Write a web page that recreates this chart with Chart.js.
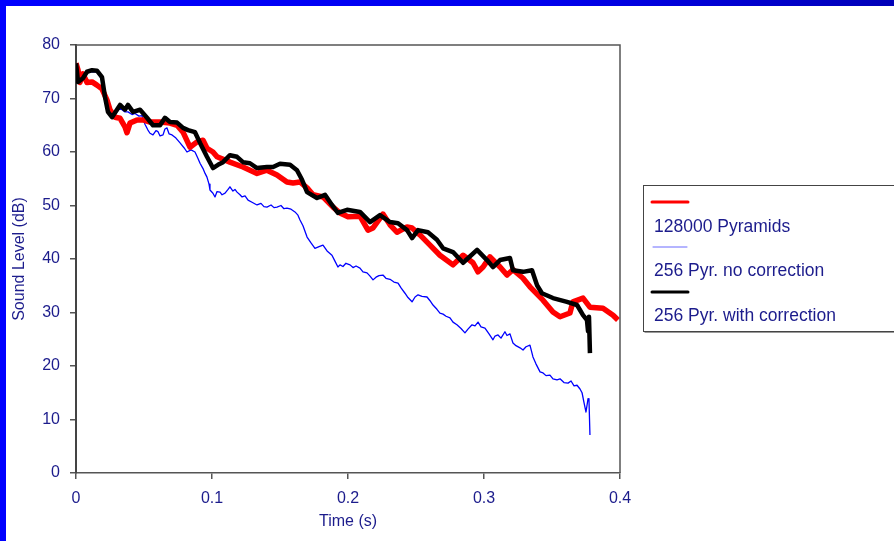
<!DOCTYPE html>
<html>
<head>
<meta charset="utf-8">
<script src="https://cdn.jsdelivr.net/npm/chart.js@4"></script>
<style>
  html, body { margin: 0; padding: 0; background: #ffffff; }
  #wrap { position: relative; width: 894px; height: 541px; overflow: hidden; background: #fff; }
  #c { position: absolute; left: 0; top: 0; }
  #topbar { position: absolute; left: 0; top: 0; width: 894px; height: 6px; background: linear-gradient(to right, #0000ff 0%, #0000ee 60%, #0000b8 100%); }
  #leftbar { position: absolute; left: 0; top: 0; width: 6px; height: 541px; background: #0000ff; }
</style>
</head>
<body>
<div id="wrap">
  <canvas id="c" width="894" height="541"></canvas>
  <div id="topbar"></div>
  <div id="leftbar"></div>
</div>
<script>
// ---- Data (time in seconds, level in dB) ----
const seriesNames = ['128000 Pyramids', '256 Pyr. no correction', '256 Pyr. with correction'];

const redTime = [0.0000,0.0015,0.0029,0.0051,0.0081,0.0118,0.0154,0.0191,0.0228,0.0250,0.0287,0.0324,0.0360,0.0375,0.0397,0.0449,0.0493,0.0544,0.0618,0.0691,0.0743,0.0787,0.0838,0.0890,0.0934,0.0963,0.1007,0.1037,0.1132,0.1228,0.1331,0.1404,0.1478,0.1551,0.1596,0.1647,0.1699,0.1743,0.1816,0.1890,0.1941,0.2000,0.2088,0.2147,0.2184,0.2257,0.2309,0.2360,0.2434,0.2471,0.2529,0.2603,0.2676,0.2772,0.2846,0.2919,0.2956,0.2993,0.3044,0.3118,0.3169,0.3213,0.3287,0.3338,0.3434,0.3507,0.3559,0.3632,0.3654,0.3728,0.3779,0.3875,0.3949,0.3985];
const redLevel = [76.6,75.3,73.0,74.6,73.0,73.1,72.5,71.8,69.7,67.9,66.5,66.3,64.7,63.6,65.4,66.0,66.0,65.6,65.6,65.4,65.0,63.7,60.9,61.9,62.2,60.7,60.0,59.1,58.1,57.2,56.0,56.6,55.7,54.4,54.2,54.4,53.3,52.0,51.6,49.7,48.6,47.9,48.0,45.4,45.8,48.4,46.4,45.0,46.0,45.8,44.5,42.6,40.7,38.9,40.7,39.3,37.6,38.5,40.4,38.5,37.0,38.0,36.4,34.8,32.3,30.1,29.2,29.9,32.0,32.7,31.0,30.8,29.5,28.6];

const blueTime = [0.0000,0.0015,0.0051,0.0081,0.0118,0.0154,0.0191,0.0213,0.0235,0.0265,0.0301,0.0324,0.0360,0.0382,0.0412,0.0434,0.0463,0.0485,0.0507,0.0529,0.0544,0.0566,0.0588,0.0603,0.0618,0.0640,0.0654,0.0669,0.0684,0.0706,0.0735,0.0765,0.0794,0.0816,0.0846,0.0875,0.0897,0.0912,0.0934,0.0949,0.0963,0.0978,0.0985,0.1007,0.1022,0.1037,0.1059,0.1074,0.1096,0.1118,0.1132,0.1154,0.1169,0.1184,0.1206,0.1221,0.1243,0.1265,0.1294,0.1331,0.1360,0.1382,0.1404,0.1434,0.1456,0.1478,0.1507,0.1529,0.1551,0.1581,0.1610,0.1632,0.1647,0.1669,0.1699,0.1728,0.1757,0.1787,0.1816,0.1846,0.1882,0.1904,0.1926,0.1941,0.1963,0.1985,0.2015,0.2037,0.2059,0.2088,0.2110,0.2140,0.2162,0.2184,0.2206,0.2228,0.2257,0.2279,0.2309,0.2338,0.2368,0.2390,0.2419,0.2441,0.2471,0.2493,0.2515,0.2544,0.2581,0.2603,0.2625,0.2654,0.2676,0.2699,0.2721,0.2750,0.2772,0.2801,0.2831,0.2860,0.2882,0.2912,0.2934,0.2956,0.2978,0.3007,0.3037,0.3066,0.3081,0.3103,0.3125,0.3154,0.3169,0.3191,0.3213,0.3235,0.3265,0.3287,0.3309,0.3338,0.3360,0.3382,0.3412,0.3434,0.3456,0.3485,0.3507,0.3537,0.3559,0.3588,0.3618,0.3640,0.3662,0.3684,0.3706,0.3721,0.3735,0.3750,0.3765,0.3772,0.3779];
const blueLevel = [76.6,73.5,74.0,75.0,75.0,75.0,73.5,70.0,67.5,66.5,67.5,68.2,67.5,67.5,67.0,67.2,66.7,66.8,65.2,64.1,63.5,63.2,64.0,63.8,63.0,63.2,64.3,64.5,63.4,63.2,62.6,61.7,60.8,60.0,60.4,60.0,58.8,57.9,56.9,56.0,55.3,54.0,52.9,52.3,51.6,52.6,52.5,52.0,52.3,53.0,53.5,52.7,53.0,52.5,52.0,51.6,51.8,51.0,50.6,50.1,50.4,49.8,49.7,50.1,49.6,49.7,50.0,49.4,49.5,49.3,48.8,48.2,47.3,46.2,44.1,43.0,42.0,42.3,42.6,41.5,40.7,39.6,38.5,38.9,38.6,39.2,38.9,38.4,38.7,38.3,37.6,37.4,36.8,36.1,36.6,36.9,37.0,36.4,36.2,35.7,35.5,34.6,33.6,32.8,32.0,32.9,33.3,33.0,32.9,32.2,31.4,30.6,29.9,29.7,29.3,29.0,28.2,27.7,27.0,26.2,26.9,27.7,27.5,28.2,27.3,27.1,26.0,24.9,25.6,25.8,25.2,26.4,25.7,26.0,24.3,23.8,23.4,23.0,23.6,23.9,21.7,20.4,18.9,18.7,18.2,18.3,17.6,17.4,17.6,16.9,16.8,17.2,16.3,16.4,15.7,15.0,13.2,11.4,13.9,13.6,7.1];

const blackTime = [0.0000,0.0015,0.0051,0.0081,0.0118,0.0154,0.0191,0.0213,0.0235,0.0265,0.0301,0.0324,0.0360,0.0382,0.0419,0.0471,0.0522,0.0566,0.0618,0.0654,0.0691,0.0743,0.0787,0.0824,0.0875,0.0912,0.0963,0.1007,0.1044,0.1081,0.1132,0.1184,0.1228,0.1279,0.1331,0.1404,0.1449,0.1500,0.1574,0.1625,0.1662,0.1699,0.1772,0.1831,0.1882,0.1926,0.1993,0.2088,0.2162,0.2235,0.2309,0.2368,0.2434,0.2471,0.2515,0.2588,0.2654,0.2699,0.2772,0.2846,0.2949,0.3022,0.3066,0.3118,0.3191,0.3213,0.3287,0.3353,0.3390,0.3426,0.3507,0.3610,0.3684,0.3728,0.3757,0.3765,0.3772,0.3779];
const blackLevel = [76.6,73.1,73.8,75.0,75.3,75.2,74.0,70.3,67.5,66.5,67.9,68.8,67.9,68.8,67.5,67.9,66.4,65.0,65.0,66.4,65.6,65.5,64.5,64.1,63.7,61.7,59.1,57.0,57.6,58.1,59.4,59.1,58.1,57.9,57.0,57.2,57.2,57.8,57.6,56.6,54.8,52.5,51.4,52.0,50.1,48.6,49.2,48.8,46.9,48.2,46.9,46.7,45.4,43.9,45.4,45.0,43.6,42.0,41.3,39.3,41.7,39.8,38.5,39.8,40.2,37.9,37.6,37.9,35.1,33.6,32.7,32.0,31.4,29.5,28.6,26.5,29.2,22.4];

const xTickLabels = ['0', '0.1', '0.2', '0.3', '0.4'];
const yTickLabels = ['0', '10', '20', '30', '40', '50', '60', '70', '80'];

const toPts = (t, v) => t.map((x, i) => ({ x: x, y: v[i] }));

const TEXT = '#1c1c8c';
const FONT = "'Liberation Sans', Arial, sans-serif";

// Custom legend + plot frame
const decor = {
  id: 'decor',
  afterDraw(chart) {
    const ctx = chart.ctx;
    const a = chart.chartArea;
    ctx.save();
    ctx.strokeStyle = '#555';
    ctx.lineWidth = 1.5;
    ctx.beginPath();
    ctx.moveTo(a.left, a.top);
    ctx.lineTo(a.right, a.top);
    ctx.lineTo(a.right, a.bottom);
    ctx.stroke();
    const bx = 643.5, by = 185.5, bw = 260, bh = 146;
    ctx.fillStyle = '#fff';
    ctx.fillRect(bx, by, bw, bh);
    ctx.strokeStyle = '#444';
    ctx.lineWidth = 1;
    ctx.strokeRect(bx, by, bw, bh);
    ctx.strokeStyle = '#999';
    ctx.beginPath();
    ctx.moveTo(bx + 1, by + bh + 1);
    ctx.lineTo(bx + bw, by + bh + 1);
    ctx.stroke();
    const items = [
      { color: '#ff0000', w: 3, ly: 202, ty: 227, x0: 652, x1: 688 },
      { color: '#6a6aff', w: 1, ly: 247, ty: 271, x0: 653, x1: 687 },
      { color: '#000000', w: 3, ly: 292, ty: 316, x0: 652, x1: 688 }
    ];
    ctx.font = '17.5px ' + FONT;
    ctx.textBaseline = 'middle';
    ctx.textAlign = 'left';
    items.forEach((it, i) => {
      ctx.strokeStyle = it.color;
      ctx.lineWidth = it.w;
      ctx.lineCap = 'round';
      ctx.beginPath();
      ctx.moveTo(it.x0, it.ly);
      ctx.lineTo(it.x1, it.ly);
      ctx.stroke();
      ctx.fillStyle = TEXT;
      ctx.fillText(seriesNames[i], 654, it.ty + 0.5);
    });
    ctx.restore();
  }
};

new Chart(document.getElementById('c'), {
  type: 'line',
  data: {
    datasets: [
      { label: seriesNames[0], data: toPts(redTime, redLevel), borderColor: '#ff0000', borderWidth: 5.5, order: 1 },
      { label: seriesNames[1], data: toPts(blueTime, blueLevel), borderColor: '#0000ff', borderWidth: 1.3, order: 2 },
      { label: seriesNames[2], data: toPts(blackTime, blackLevel), borderColor: '#000000', borderWidth: 4.5, order: 0 }
    ]
  },
  options: {
    responsive: false,
    animation: false,
    devicePixelRatio: 1,
    elements: {
      point: { radius: 0 },
      line: { tension: 0, borderJoinStyle: 'round', borderCapStyle: 'butt', fill: false }
    },
    layout: { padding: { left: 0, right: 274, top: 45, bottom: 0 } },
    plugins: { legend: { display: false }, tooltip: { enabled: false } },
    scales: {
      x: {
        type: 'linear',
        min: 0, max: 0.4,
        afterFit(s) { s.height = 68; },
        afterBuildTicks(s) { s.ticks = xTickLabels.map((l) => ({ value: parseFloat(l) })); },
        ticks: {
          callback: (v, i) => xTickLabels[i],
          color: TEXT, font: { family: FONT, size: 16 }, padding: 10, maxRotation: 0
        },
        grid: { drawOnChartArea: false, drawTicks: true, tickLength: 6, color: '#555', lineWidth: 1.5 },
        border: { display: true, color: '#555', width: 1.5 },
        title: { display: true, text: 'Time (s)', color: TEXT, font: { family: FONT, size: 16 }, padding: { top: 0, bottom: 10 } }
      },
      y: {
        min: 0, max: 80,
        afterFit(s) { s.width = 76; },
        afterBuildTicks(s) { s.ticks = yTickLabels.map((l) => ({ value: parseFloat(l) })); },
        ticks: {
          callback: (v, i) => yTickLabels[i],
          color: TEXT, font: { family: FONT, size: 16 }, padding: 10
        },
        grid: { drawOnChartArea: false, drawTicks: true, tickLength: 6, color: '#555', lineWidth: 1.5 },
        border: { display: true, color: '#444', width: 2 },
        title: { display: true, text: 'Sound Level (dB)', color: TEXT, font: { family: FONT, size: 16 }, padding: { top: 10, bottom: 0 } }
      }
    }
  },
  plugins: [decor]
});
</script>
</body>
</html>
